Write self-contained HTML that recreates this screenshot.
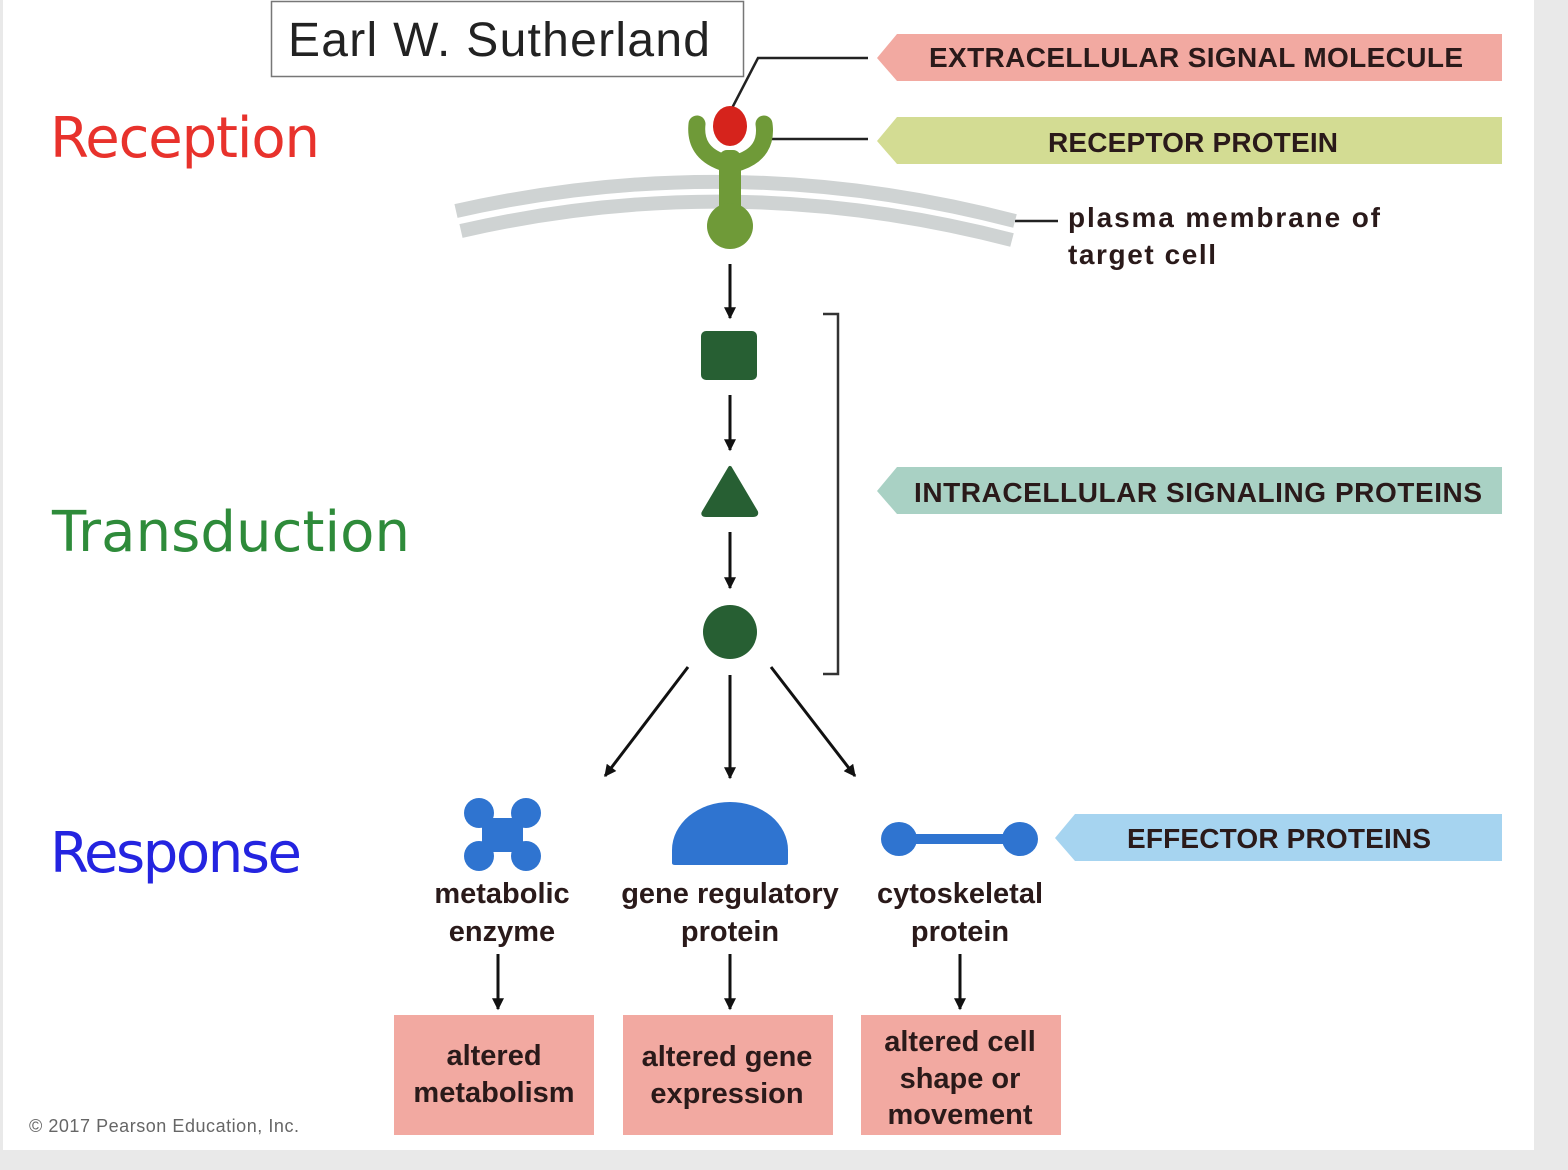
<!DOCTYPE html>
<html><head><meta charset="utf-8"><style>
html,body{margin:0;padding:0;background:#e9e9e9;}
svg{display:block;}
.b{font-family:"Liberation Sans",sans-serif;font-weight:bold;fill:#2a1a1a;}
.c{font-family:"DejaVu Sans",sans-serif;}
</style></head><body>
<svg width="1568" height="1170" viewBox="0 0 1568 1170" xmlns="http://www.w3.org/2000/svg">
<defs>
<marker id="ah" viewBox="0 0 10 10" refX="9" refY="5" markerWidth="16" markerHeight="12" orient="auto" markerUnits="userSpaceOnUse">
<path d="M0,0 L10,5 L0,10 z" fill="#111"/></marker>
</defs>
<rect x="0" y="0" width="1568" height="1170" fill="#e9e9e9"/>
<rect x="3" y="0" width="1531" height="1150" fill="#fff"/>

<rect x="271.5" y="1.5" width="472" height="75" fill="#fff" stroke="#777" stroke-width="1.5"/>
<text x="288" y="56" font-family="Liberation Sans, sans-serif" font-size="48" fill="#222" textLength="422">Earl W. Sutherland</text>

<text x="50" y="157" class="c" font-size="56" fill="#e8322c" textLength="270">Reception</text>
<text x="52" y="551" class="c" font-size="56" fill="#2e8b3a" textLength="358">Transduction</text>
<text x="50" y="872" class="c" font-size="56" fill="#2424e0" textLength="252">Response</text>

<polygon points="877,58 897,34 1502,34 1502,81 897,81" fill="#f2a9a1"/>
<text x="1196" y="67" class="b" font-size="28" text-anchor="middle" textLength="534">EXTRACELLULAR SIGNAL MOLECULE</text>
<polygon points="877,141 897,117 1502,117 1502,164 897,164" fill="#d3dc93"/>
<text x="1193" y="152" class="b" font-size="28" text-anchor="middle" textLength="290">RECEPTOR PROTEIN</text>
<polygon points="877,491 897,467 1502,467 1502,514 897,514" fill="#a9d1c4"/>
<text x="1198" y="502" class="b" font-size="28" text-anchor="middle" textLength="568">INTRACELLULAR SIGNALING PROTEINS</text>
<polygon points="1055,838 1075,814 1502,814 1502,861 1075,861" fill="#a6d4f0"/>
<text x="1279" y="848" class="b" font-size="28" text-anchor="middle" textLength="304">EFFECTOR PROTEINS</text>

<polyline points="730,112 758,58 868,58" fill="none" stroke="#222" stroke-width="2.5"/>
<line x1="765" y1="139" x2="868" y2="139" stroke="#222" stroke-width="2.5"/>
<line x1="1015" y1="221" x2="1058" y2="221" stroke="#222" stroke-width="2.5"/>

<path d="M456,211 Q735,148 1015,221" fill="none" stroke="#cfd3d3" stroke-width="14"/>
<path d="M461,231 Q735,168 1012,240" fill="none" stroke="#cfd3d3" stroke-width="14"/>
<text x="1068" y="227" class="b" font-size="28" textLength="312">plasma membrane of</text>
<text x="1068" y="264" class="b" font-size="28" textLength="148">target cell</text>

<path d="M697,124 Q694,152 722,162 L740,162 Q768,152 764,124" fill="none" stroke="#6f9a38" stroke-width="17" stroke-linecap="round"/>
<rect x="719" y="150" width="22" height="75" rx="8" fill="#6f9a38"/>
<circle cx="730" cy="226" r="23" fill="#6f9a38"/>
<ellipse cx="730" cy="126" rx="17" ry="20" fill="#d6231c"/>

<line x1="730" y1="264" x2="730" y2="318" stroke="#111" stroke-width="3" marker-end="url(#ah)"/>
<rect x="701" y="331" width="56" height="49" rx="5" fill="#275f33"/>
<line x1="730" y1="395" x2="730" y2="450" stroke="#111" stroke-width="3" marker-end="url(#ah)"/>
<path d="M730,468 L756,512 Q757,515 753,515 L706,515 Q702,515 704,512 Z" fill="#275f33" stroke="#275f33" stroke-width="4" stroke-linejoin="round"/>
<line x1="730" y1="532" x2="730" y2="588" stroke="#111" stroke-width="3" marker-end="url(#ah)"/>
<circle cx="730" cy="632" r="27" fill="#275f33"/>
<polyline points="823,314 838,314 838,674 823,674" fill="none" stroke="#333" stroke-width="2.5"/>

<line x1="688" y1="667" x2="605" y2="776" stroke="#111" stroke-width="3" marker-end="url(#ah)"/>
<line x1="730" y1="675" x2="730" y2="778" stroke="#111" stroke-width="3" marker-end="url(#ah)"/>
<line x1="771" y1="667" x2="855" y2="776" stroke="#111" stroke-width="3" marker-end="url(#ah)"/>

<g fill="#2f74d0">
<circle cx="479" cy="813" r="15"/><circle cx="526" cy="813" r="15"/>
<circle cx="479" cy="856" r="15"/><circle cx="526" cy="856" r="15"/>
<rect x="482" y="818" width="41" height="34"/>
<path d="M672,863 L672,850 A58,48 0 0 1 788,850 L788,863 Q788,865 785,865 L675,865 Q672,865 672,863 Z"/>
<ellipse cx="899" cy="839" rx="18" ry="17"/><ellipse cx="1020" cy="839" rx="18" ry="17"/>
<rect x="899" y="834" width="121" height="10"/>
</g>

<g class="b" font-size="29" text-anchor="middle">
<text x="502" y="903">metabolic</text><text x="502" y="941">enzyme</text>
<text x="730" y="903">gene regulatory</text><text x="730" y="941">protein</text>
<text x="960" y="903">cytoskeletal</text><text x="960" y="941">protein</text>
</g>

<line x1="498" y1="954" x2="498" y2="1009" stroke="#111" stroke-width="3" marker-end="url(#ah)"/>
<line x1="730" y1="954" x2="730" y2="1009" stroke="#111" stroke-width="3" marker-end="url(#ah)"/>
<line x1="960" y1="954" x2="960" y2="1009" stroke="#111" stroke-width="3" marker-end="url(#ah)"/>

<rect x="394" y="1015" width="200" height="120" fill="#f2a9a1"/>
<rect x="623" y="1015" width="210" height="120" fill="#f2a9a1"/>
<rect x="861" y="1015" width="200" height="120" fill="#f2a9a1"/>
<g class="b" font-size="29" text-anchor="middle">
<text x="494" y="1065">altered</text><text x="494" y="1102">metabolism</text>
<text x="727" y="1066">altered gene</text><text x="727" y="1103">expression</text>
<text x="960" y="1051">altered cell</text><text x="960" y="1088">shape or</text><text x="960" y="1124">movement</text>
</g>

<text x="29" y="1132" font-family="Liberation Sans, sans-serif" font-size="18" fill="#666" textLength="270">© 2017 Pearson Education, Inc.</text>
</svg>
</body></html>
